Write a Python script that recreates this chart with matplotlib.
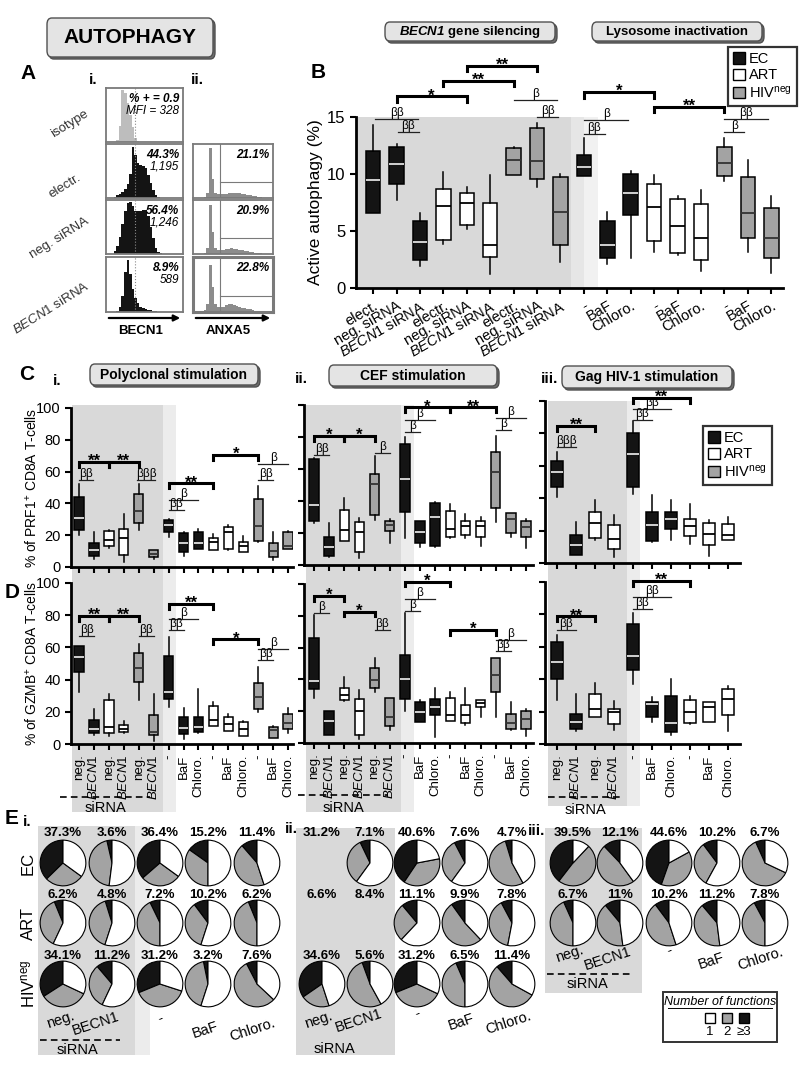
import numpy as np
import matplotlib
matplotlib.use('Agg')
import matplotlib.pyplot as plt
from matplotlib.patches import Rectangle, FancyBboxPatch, FancyArrowPatch, Patch
from matplotlib.lines import Line2D

plt.rcParams['font.family'] = ['Liberation Sans', 'DejaVu Sans']
plt.rcParams['mathtext.fontset'] = 'custom'
plt.rcParams['mathtext.rm'] = 'Liberation Sans'
plt.rcParams['mathtext.it'] = 'Liberation Sans:italic'
plt.rcParams['mathtext.bf'] = 'Liberation Sans:bold:italic'

# ---------------- data ----------------
# panel A: flow histograms (bin heights, 30 bins)
a_rows = ['isotype', 'electr.', 'neg. siRNA', r'$\mathit{BECN1}$ siRNA']
a_becn1_hist = [
    [0, 0, 0, 0, .03, .3, .97, .9, .72, .5, .28, .08, .02, 0, 0, 0, 0, 0, 0, 0, 0, 0, 0, 0, 0, 0, 0, 0, 0, 0],
    [0, 0, 0, .02, .05, .08, .12, .17, .25, .45, .95, .8, .65, .62, .6, .55, .42, .28, .15, .06, .02, 0, 0, 0, 0, 0, 0, 0, 0, 0],
    [0, 0, 0, .05, .15, .32, .55, .8, .94, .96, .88, .8, .79, .8, .82, .82, .7, .5, .3, .12, .04, .01, 0, 0, 0, 0, 0, 0, 0, 0],
    [0, 0, 0, 0, .02, .1, .3, .72, .95, .7, .42, .26, .16, .1, .07, .05, .04, .03, .02, .01, 0, 0, 0, 0, 0, 0, 0, 0, 0, 0],
]
a_becn1_pct = ['% + = 0.9', '44.3%', '56.4%', '8.9%']
a_becn1_mfi = ['MFI = 328', '1,195', '1,246', '589']
a_anxa5_hist = [
    [0, 0, 0, 0, .02, .1, .92, .35, .1, .08, .07, .07, .08, .09, .1, .1, .09, .09, .08, .07, .06, .05, .04, .03, .02, .01, 0, 0, 0, 0],
    [0, 0, 0, 0, .02, .12, .9, .4, .12, .08, .07, .08, .09, .1, .11, .1, .09, .08, .07, .06, .05, .04, .03, .02, .01, .01, 0, 0, 0, 0],
    [0, 0, 0, 0, .03, .15, .85, .45, .15, .1, .09, .1, .12, .14, .15, .13, .11, .1, .08, .07, .06, .05, .03, .02, .01, 0, 0, 0, 0, 0],
]
a_anxa5_pct = ['21.1%', '20.9%', '22.8%']

# panel B: active autophagy boxes (lo, q1, median, q3, hi)
b_labels = ['elect.', 'neg. siRNA', r'$\mathit{BECN1}$ siRNA', 'electr.', 'neg. siRNA',
            r'$\mathit{BECN1}$ siRNA', 'electr.', 'neg. siRNA', r'$\mathit{BECN1}$ siRNA',
            '-', 'BaF', 'Chloro.', '-', 'BaF', 'Chloro.', '-', 'BaF', 'Chloro.']
b_groups = 'EEEAAAHHHEEEAAAHHH'
b_boxes = [(6.6, 6.6, 9.5, 12.0, 14.3), (7.7, 9.1, 10.9, 12.4, 12.6), (1.9, 2.5, 4.0, 5.9, 6.6),
           (3.9, 4.2, 7.2, 8.7, 10.2), (5.2, 5.5, 7.5, 8.3, 8.9), (1.2, 2.7, 3.8, 7.5, 9.9),
           (9.9, 9.95, 11.2, 12.3, 12.4), (8.9, 9.6, 11.1, 14.0, 14.5), (2.3, 3.8, 6.7, 9.7, 10.0),
           (9.8, 9.8, 10.6, 11.7, 13.2), (2.1, 2.6, 3.8, 5.9, 6.7), (2.6, 6.4, 8.3, 10.0, 10.3),
           (3.2, 4.1, 7.1, 9.1, 9.9), (2.9, 3.1, 5.4, 7.8, 8.1), (1.5, 2.5, 4.4, 7.4, 8.6),
           (9.4, 9.8, 11.0, 12.4, 13.2), (3.2, 4.4, 6.6, 9.7, 11.2), (1.3, 2.6, 4.4, 7.0, 8.1)]
b_brackets = [(1, 4, 16.8, '*'), (3, 6, 18.2, '**'), (4, 7, 19.5, '**'), (9, 12, 17.2, '*'), (12, 15, 15.9, '**')]
b_betas = [(6, 7.85, 16.5, 'β'), (7, 7.9, 15.0, 'ββ'), (0.1, 1.9, 14.85, 'ββ'), (1.05, 1.95, 13.65, 'ββ'),
           (9, 10.9, 14.7, 'β'), (9, 9.9, 13.55, 'ββ'), (15, 16.85, 14.8, 'ββ'), (15, 15.85, 13.65, 'β')]

# panels C / D
cd_labels_12 = ['neg.', r'$\mathit{BECN1}$', 'neg.', r'$\mathit{BECN1}$', 'neg.', r'$\mathit{BECN1}$',
                '-', 'BaF', 'Chloro.', '-', 'BaF', 'Chloro.', '-', 'BaF', 'Chloro.']
cd_labels_3 = ['neg.', r'$\mathit{BECN1}$', 'neg.', r'$\mathit{BECN1}$', '-', 'BaF', 'Chloro.', '-', 'BaF', 'Chloro.']
cd_groups_12 = 'EEAAHHEEEAAAHHH'
cd_groups_3 = 'EEAAEEEAAA'

c1_boxes = [(20, 23, 31, 44, 52), (5, 7, 10.5, 15, 22), (12, 13, 17, 22.5, 23), (3, 7.4, 18, 24, 33.5),
            (23, 27.6, 35, 46, 52), (5, 6, 8.4, 10.5, 11), (19, 21.7, 26.5, 29.5, 30.5),
            (6.7, 9.5, 15.4, 21.5, 21.7), (11.6, 11.6, 15, 22, 23.6), (10.5, 10.5, 16, 18, 20.6),
            (11, 11.6, 22, 25.3, 26.7), (9.5, 9.5, 13.3, 15.6, 19.4), (16, 16.6, 25.7, 42.7, 51),
            (4.6, 6.3, 10, 15.4, 21.7), (11.6, 11.6, 13, 21.7, 22.5)]
c1_brackets = [(0, 2, 66, '**'), (2, 4, 66, '**'), (6, 9, 52.6, '**'), (9, 12, 70.5, '*')]
c1_betas = [(0, 0.95, 55, 'ββ'), (3.9, 5.1, 55, 'βββ'), (6, 8, 42, 'β'), (6, 7, 36, 'ββ'),
            (12, 14, 64.6, 'β'), (12, 13, 55, 'ββ')]

c2_boxes = [(26, 27.5, 37.5, 66, 67), (5.2, 5.8, 11.5, 17.7, 26), (15.2, 15.2, 21.9, 34.4, 41.7),
            (4.2, 8.3, 20.8, 27, 29.6), (28, 31, 50.4, 57, 68), (14, 21.2, 25, 27.5, 28.7),
            (16.7, 33, 54, 75.4, 80), (11, 13.5, 20.8, 27.3, 27.5), (11.5, 11.9, 30.2, 38.5, 39.6),
            (16.9, 17.3, 22.5, 34, 38), (16.7, 18.8, 24.6, 27.5, 31.7), (12, 17.7, 24.6, 27.5, 30.2),
            (27, 35.8, 58.3, 70.4, 80.6), (17.7, 19.8, 28.7, 32.3, 32.3), (10.8, 17.7, 24, 27.5, 28.7)]
c2_brackets = [(0, 2, 80.6, '*'), (2, 4, 80.6, '*'), (6, 9, 98.5, '*'), (9, 12, 98.5, '**')]
c2_betas = [(0, 1, 68.8, 'ββ'), (4, 5, 70, 'β'), (6, 8, 90.6, 'β'), (6, 7, 83, 'β'),
            (12, 14, 91.7, 'β'), (12, 13, 84.4, 'β')]

c3_boxes = [(40.7, 47.2, 56, 63, 68.4), (5.1, 5.1, 11.3, 17, 25.3), (14.4, 15.4, 25, 31.2, 39),
            (3.7, 8.8, 14.8, 23.2, 29.4), (42.5, 46.8, 67, 80.5, 87.7), (12.9, 13.3, 23.2, 31.4, 42),
            (14.4, 21.1, 27.3, 31.4, 38.6), (11.9, 16.8, 23, 27.1, 36.3), (4.1, 10.9, 17.9, 24.6, 26.7),
            (14, 14.4, 17.5, 24.2, 28.1)]
c3_brackets = [(0, 2, 84.6, '**'), (4, 7, 102.0, '**')]
c3_betas = [(0, 1, 71.5, 'βββ'), (4, 6, 95, 'ββ'), (4, 5, 88.3, 'ββ')]

d1_boxes = [(32, 44.6, 54, 60.6, 61), (5.6, 7, 9.5, 15, 22), (5, 6.6, 10.8, 27.4, 31), (6.6, 7.5, 9.5, 11.6, 14),
            (27.4, 38.8, 47.3, 56.4, 62), (2, 5.6, 7.7, 18.3, 31), (23.2, 28, 32, 54.8, 66.4),
            (2.9, 6.2, 9.8, 17, 22.6), (7, 7.3, 10.8, 16.6, 34), (11.4, 11.4, 15, 23.4, 26.3),
            (8.1, 8.3, 12.4, 17, 18.7), (5, 5, 9.3, 13.9, 14.5), (19.7, 21.6, 29, 37.8, 47.7),
            (3.5, 3.9, 8.9, 10.8, 11.4), (7, 9.3, 13.3, 18.5, 22.4)]
d1_brackets = [(0, 2, 79.7, '**'), (2, 4, 79.7, '**'), (6, 9, 87, '**'), (9, 12, 65, '*')]
d1_betas = [(0, 1, 66.8, 'ββ'), (4, 5, 66.8, 'ββ'), (6, 8, 77.8, 'β'), (6, 7, 71, 'ββ'),
            (12, 14, 59, 'β'), (12, 13, 52.3, 'ββ')]

d2_boxes = [(28.2, 33.9, 38.7, 66.3, 80.5), (4.8, 5.2, 13.6, 19.9, 20.3), (26.6, 27.2, 30.3, 34.5, 41.4),
            (2.5, 4.8, 19.9, 27.6, 33.5), (32, 34.5, 39.7, 47, 53.3), (7.9, 10.9, 16.1, 28.2, 28.2),
            (20.3, 27.8, 40.4, 55.4, 82), (13, 13.2, 19.2, 25.5, 26.8), (3.8, 17.8, 22.4, 27.8, 34.5),
            (13.6, 13.6, 17.8, 28.2, 31.8), (11.5, 12.6, 17.8, 23.6, 34.5), (16.1, 22.4, 25.1, 26.8, 26.8),
            (16.1, 31.8, 42.5, 53.3, 53.5), (7.9, 9, 12.6, 18.2, 25.5), (4.2, 8.8, 15.1, 20.3, 21.3)]
d2_brackets = [(0, 2, 92.5, '*'), (2, 4, 82.6, '*'), (6, 9, 101.5, '*'), (9, 12, 71, '*')]
d2_betas = [(0, 1, 82, 'β'), (4, 5, 71, 'ββ'), (6, 8, 90.4, 'β'), (6, 7, 83, 'β'),
            (12, 14, 65, 'β'), (12, 13, 58, 'ββ')]

d3_boxes = [(27.2, 40.2, 50.5, 62.9, 67), (8.2, 9.1, 13.8, 18.4, 30.7), (16.5, 16.5, 21.6, 30.9, 37.5),
            (8.7, 12.2, 19.6, 21.6, 26.6), (36.9, 45.4, 54.4, 74.2, 80.8), (13.8, 16.9, 24.5, 26.2, 28.9),
            (5.6, 7.2, 13.2, 29.7, 40.2), (12.4, 12.8, 20, 27.2, 29.7), (13.4, 13.8, 23.1, 25.8, 26.2),
            (8.2, 17.9, 27.8, 34, 36.1)]
d3_brackets = [(0, 2, 78.8, '**'), (4, 7, 100.5, '**')]
d3_betas = [(0, 1, 70.5, 'ββ'), (4, 6, 91, 'ββ'), (4, 5, 83.5, 'ββ')]

# panel E: pies, % of cells with >=3 functions (black) and 1 function (white); None = no pie
e_cols = ['neg.', 'BECN1', '-', 'BaF', 'Chloro.']
e1_black = [[37.3, 3.6, 36.4, 15.2, 11.4], [6.2, 4.8, 7.2, 10.2, 6.2], [34.1, 11.2, 31.2, 3.2, 7.6]]
e1_white = [[35, 52, 35, 50, 45], [57, 55, 50, 55, 50], [32, 57, 30, 55, 37]]
e2_black = [[31.2, 7.1, 40.6, 7.6, 4.7], [6.6, 8.4, 11.1, 9.9, 7.8], [34.6, 5.6, 31.2, 6.5, 11.4]]
e2_white = [[None, 60, 22, 60, 42], [None, None, 62, 38, 53], [45, 42, 32, 50, 33]]
e3_black = [[39.5, 12.1, 44.6, 10.2, 6.7], [6.7, 11, 10.2, 11.2, 7.8]]
e3_white = [[12, 40, 17, 58, 32], [50, 48, 45, 48, 50]]

# ---------------- helpers ----------------
W, H = 800, 1065
BLACK, GREY, SHADE = '#141414', '#a3a3a3', '#d9d9d9'
FILL = {'E': BLACK, 'A': 'white', 'H': GREY}
MED = {'E': '#e0e0e0', 'A': 'black', 'H': '#333333'}

fig = plt.figure(figsize=(8, 10.65), dpi=100)


def px_axes(x0, y0, x1, y1):
    ax = fig.add_axes([x0 / W, 1 - y1 / H, (x1 - x0) / W, (y1 - y0) / H])
    ax.patch.set_visible(False)
    return ax


def ftext(x, y, s, **kw):
    kw.setdefault('ha', 'center')
    kw.setdefault('va', 'center')
    fig.text(x / W, 1 - y / H, s, **kw)


def shade(x0, y0, x1, y1, color=SHADE):
    fig.patches.append(Rectangle((x0 / W, 1 - y1 / H), (x1 - x0) / W, (y1 - y0) / H,
                                 transform=fig.transFigure, fc=color, ec='none', zorder=-10))


def hline(x0, x1, y, **kw):
    fig.add_artist(Line2D([x0 / W, x1 / W], [1 - y / H, 1 - y / H], transform=fig.transFigure, **kw))


def header(x0, y0, x1, y1, s, size):
    for d, fc in [(2, '#707070'), (0, '#e4e4e4')]:
        fig.patches.append(FancyBboxPatch(((x0 + d) / W, 1 - (y1 + d) / H), (x1 - x0) / W, (y1 - y0) / H,
                                          boxstyle='round,pad=0,rounding_size=0.006',
                                          transform=fig.transFigure, fc=fc, ec='#505050', lw=1.0))
    ftext((x0 + x1) / 2, (y0 + y1) / 2, s, fontsize=size, fontweight='bold')


def boxes(ax, data, groups):
    stats = [dict(whislo=b[0], q1=b[1], med=b[2], q3=b[3], whishi=b[4]) for b in data]
    art = ax.bxp(stats, positions=range(len(data)), widths=0.62, patch_artist=True,
                 showfliers=False, showcaps=False,
                 boxprops=dict(lw=1.1), whiskerprops=dict(lw=1.1, color='black'),
                 medianprops=dict(lw=1.3))
    for patch, med, g in zip(art['boxes'], art['medians'], groups):
        patch.set_facecolor(FILL[g])
        patch.set_edgecolor('black')
        med.set_color(MED[g])


def style(ax, xlim, ylim, yticks, ylabels=True, size=10.5):
    ax.set_xlim(xlim)
    ax.set_ylim(ylim)
    for s in ['top', 'right']:
        ax.spines[s].set_visible(False)
    for s in ['left', 'bottom']:
        ax.spines[s].set_linewidth(2)
    ax.tick_params(width=1.5, length=4, labelsize=size)
    ax.set_yticks(yticks)
    if not ylabels:
        ax.set_yticklabels([])


def signif(ax, brackets, betas, drop):
    for a, b, y, s in brackets:
        ax.plot([a, a, b, b], [y - drop, y, y, y - drop], color='black', lw=2.2, clip_on=False,
                solid_joinstyle='miter')
        ax.annotate(s, ((a + b) / 2, y), xytext=(0, -5), textcoords='offset points',
                    ha='center', va='bottom', fontsize=12, fontweight='bold', annotation_clip=False)
    for a, b, y, s in betas:
        ax.plot([a, b], [y, y], color='#222222', lw=0.9, clip_on=False)
        ax.annotate(s, ((a + b) / 2, y), xytext=(0, 0), textcoords='offset points',
                    ha='center', va='bottom', fontsize=8.5, annotation_clip=False)


def group_legend(x, y):
    handles = [Patch(fc=BLACK, ec='black'), Patch(fc='white', ec='black'), Patch(fc=GREY, ec='black')]
    leg = fig.legend(handles, ['EC', 'ART', r'HIV$^{\mathrm{neg}}$'], loc='upper left',
                     bbox_to_anchor=(x / W, 1 - y / H), frameon=True, fancybox=False,
                     handlelength=0.8, handleheight=0.8, handletextpad=0.3, labelspacing=0.15,
                     borderpad=0.35, borderaxespad=0, fontsize=10.5)
    leg.get_frame().set_edgecolor('black')
    leg.get_frame().set_linewidth(1.6)


# ---------------- background shading ----------------
shade(72, 405, 163, 812)
shade(163, 405, 176, 812, '#ececec')
shade(306, 405, 401, 812)
shade(401, 405, 414, 812, '#ececec')
shade(548, 401, 627, 806)
shade(627, 401, 640, 806, '#ececec')
shade(38, 826, 135, 1055)
shade(135, 826, 150, 1055, '#ececec')
shade(296, 828, 395, 1055)
shade(545, 828, 642, 993)

# ---------------- titles ----------------
header(47, 18, 213, 57, 'AUTOPHAGY', 15)
header(385, 22, 555, 41, r'$\mathbf{BECN1}$ gene silencing', 9.5)
header(592, 22, 762, 41, 'Lysosome inactivation', 9.5)
header(90, 364, 258, 385, 'Polyclonal stimulation', 10)
header(329, 365, 497, 386, 'CEF stimulation', 10)
header(562, 366, 732, 388, 'Gag HIV-1 stimulation', 10)

for x, y, s, fs in [(28, 73, 'A', 15), (93, 80, 'i.', 11), (197, 80, 'ii.', 11), (318, 72, 'B', 15),
                    (27, 375, 'C', 15), (57, 381, 'i.', 11), (301, 379, 'ii.', 11), (550, 379, 'iii.', 11),
                    (12, 592, 'D', 15), (12, 819, 'E', 15), (27, 822, 'i.', 11), (291, 829, 'ii.', 11),
                    (537, 831, 'iii.', 11)]:
    ftext(x, y, s, fontsize=fs, fontweight='bold')

# ---------------- panel A ----------------
edges = np.linspace(0, 1, 31)
row_y = [(88, 142), (144, 198), (200, 254), (257, 312)]
label_xy = [(87, 113), (80, 177), (88, 220), (88, 285)]
for k, (y0, y1) in enumerate(row_y):
    ax = px_axes(106, y0, 183, y1)
    ax.stairs(a_becn1_hist[k], edges, fill=True, color='#bdbdbd' if k == 0 else BLACK)
    ax.axvline(0.377, color='#8a8a8a', lw=0.8, ls=':')
    ax.set_xlim(0, 1)
    ax.set_ylim(0, 1)
    ax.set_xticks([])
    ax.set_yticks([])
    for s in ax.spines.values():
        s.set_color('#7a7a7a')
        s.set_linewidth(1.3)
    ax.text(0.95, 0.8, a_becn1_pct[k], transform=ax.transAxes, ha='right', va='center',
            fontsize=8.5, fontweight='bold', style='italic')
    ax.text(0.95, 0.58, a_becn1_mfi[k], transform=ax.transAxes, ha='right', va='center',
            fontsize=8.5, style='italic')
    ftext(*label_xy[k], a_rows[k], ha='right', va='center', rotation=32, rotation_mode='anchor',
          fontsize=9.5, color='#333333')
    if k > 0:
        ax2 = px_axes(193, y0, 273, y1)
        ax2.stairs(a_anxa5_hist[k - 1], edges, fill=True, color='#8c8c8c')
        ax2.plot([0.34, 0.34], [0, 1], color='#7a7a7a', lw=0.8)
        ax2.plot([0.34, 1], [0.3, 0.3], color='#7a7a7a', lw=0.8)
        ax2.set_xlim(0, 1)
        ax2.set_ylim(0, 1)
        ax2.set_xticks([])
        ax2.set_yticks([])
        for s in ax2.spines.values():
            s.set_color('#7a7a7a')
            s.set_linewidth(1.3 if k < 3 else 2.2)
        ax2.text(0.95, 0.8, a_anxa5_pct[k - 1], transform=ax2.transAxes, ha='right', va='center',
                 fontsize=8.5, fontweight='bold', style='italic')

for x0, x1 in [(106, 183), (193, 273)]:
    fig.add_artist(FancyArrowPatch((x0 / W, 1 - 318 / H), (x1 / W, 1 - 318 / H), transform=fig.transFigure,
                                   arrowstyle='-|>', mutation_scale=9, lw=1.6, color='black'))
ftext(141, 331, 'BECN1', fontsize=9.5, fontweight='bold')
ftext(228, 331, 'ANXA5', fontsize=9.5, fontweight='bold')

# ---------------- panel B ----------------
axb = px_axes(356, 117, 783, 288)
axb.axvspan(-0.73, 8.45, color=SHADE, lw=0, zorder=0)
axb.axvspan(8.45, 9.0, color='#e6e6e6', lw=0, zorder=0)
axb.axvspan(9.0, 9.6, color='#f1f1f1', lw=0, zorder=0)
boxes(axb, b_boxes, b_groups)
style(axb, (-0.73, 17.5), (0, 15), [0, 5, 10, 15], size=12)
axb.set_xticks(range(len(b_labels)))
axb.set_xticklabels(b_labels, rotation=30, ha='right', rotation_mode='anchor', fontsize=10.5)
axb.set_ylabel('Active autophagy (%)', fontsize=12.5, labelpad=3)
signif(axb, b_brackets, b_betas, 0.5)
group_legend(728, 47)

# ---------------- panels C and D ----------------
col_x = [(71, 293, (-0.54, 14.33)), (304, 533, (-0.66, 14.46)), (545, 740, (-0.63, 9.63))]
c_y = [(408, 567), (405, 565), (401, 563)]
d_y = [(583, 744), (584, 743), (582, 744)]
c_sets = [(c1_boxes, c1_brackets, c1_betas), (c2_boxes, c2_brackets, c2_betas), (c3_boxes, c3_brackets, c3_betas)]
d_sets = [(d1_boxes, d1_brackets, d1_betas), (d2_boxes, d2_brackets, d2_betas), (d3_boxes, d3_brackets, d3_betas)]
for i in range(3):
    x0, x1, xl = col_x[i]
    groups = cd_groups_3 if i == 2 else cd_groups_12
    labels = cd_labels_3 if i == 2 else cd_labels_12
    for row, ys, sets in [('C', c_y, c_sets), ('D', d_y, d_sets)]:
        ax = px_axes(x0, ys[i][0], x1, ys[i][1])
        data, brk, bet = sets[i]
        boxes(ax, data, groups)
        style(ax, xl, (0, 100), range(0, 101, 20), ylabels=(i == 0))
        ax.set_xticks(range(len(data)))
        if row == 'C':
            ax.set_xticklabels([])
            if i == 0:
                ax.set_ylabel('% of PRF1$^{+}$ CD8A T-cells', fontsize=10)
        else:
            ax.set_xticklabels(labels, rotation=90, fontsize=9.5)
            if i == 0:
                ax.set_ylabel('% of GZMB$^{+}$ CD8A T-cells', fontsize=10)
        if i == 0:
            ax.yaxis.set_label_coords(-0.14, 0.5)
        signif(ax, brk, bet, 3)
group_legend(703, 426)

for xa, xb, yl, xs, ys in [(60, 150, 797, 105, 808), (298, 388, 795, 343, 808), (548, 620, 797, 585, 810)]:
    hline(xa, xb, yl, color='black', lw=1.2, ls=(0, (4, 2.5)))
    ftext(xs, ys, 'siRNA', fontsize=10.5)

# ---------------- panel E ----------------
row_cy = [863, 923, 984]
lab_y = [833, 895, 956]


def pie_block(xs, blacks, whites):
    for r, (brow, wrow) in enumerate(zip(blacks, whites)):
        for cx, b, w in zip(xs, brow, wrow):
            ftext(cx, lab_y[r], f'{b:g}%', fontsize=9.5, fontweight='bold')
            if w is None:
                continue
            cy = row_cy[r]
            ax = px_axes(cx - 24, cy - 24, cx + 24, cy + 24)
            ax.pie([b, 100 - b - w, w], colors=[BLACK, GREY, 'white'], startangle=90, counterclock=True,
                   wedgeprops=dict(edgecolor='black', linewidth=0.8))
            ax.set_xlim(-1.05, 1.05)
            ax.set_ylim(-1.05, 1.05)


pie_block([63, 112, 160, 208, 257], e1_black, e1_white)
pie_block([322, 370, 417, 465, 512], e2_black, e2_white)
pie_block([573, 620, 669, 717, 765], e3_black, e3_white)

for y, s in zip(row_cy, ['EC', 'ART', r'HIV$^{\mathrm{neg}}$']):
    ftext(28, y, s, rotation=90, fontsize=12)

col_lab = [[(60, 1020), (96, 1024), (160, 1018), (205, 1030), (252, 1030)],
           [(318, 1020), (359, 1021), (417, 1013), (461, 1022), (508, 1023)],
           [(569, 954), (608, 959), (669, 950), (711, 961), (760, 959)]]
for pos in col_lab:
    for (x, y), s in zip(pos, e_cols):
        ftext(x, y, s, fontsize=10.5, rotation=18)
hline(40, 120, 1040, color='black', lw=1.2, ls=(0, (4, 2.5)))
ftext(77, 1050, 'siRNA', fontsize=10.5)
ftext(334, 1049, 'siRNA', fontsize=10.5)
hline(547, 630, 974, color='black', lw=1.2, ls=(0, (4, 2.5)))
ftext(587, 984, 'siRNA', fontsize=10.5)

# number of functions key
fig.patches.append(Rectangle((663 / W, 1 - 1042 / H), 114 / W, 50 / H, transform=fig.transFigure,
                             fc='white', ec='#333333', lw=1.4))
ftext(720, 1002, 'Number of functions', fontsize=9, style='italic')
hline(668, 772, 1008, color='black', lw=0.7)
for x, fc, s in [(710, 'white', '1'), (727, GREY, '2'), (744, BLACK, '≥3')]:
    fig.patches.append(Rectangle(((x - 5) / W, 1 - 1023 / H), 10 / W, 10 / H, transform=fig.transFigure,
                                 fc=fc, ec='black', lw=1))
    ftext(x, 1032, s, fontsize=9.5)

fig.savefig('out.png', dpi=100)
